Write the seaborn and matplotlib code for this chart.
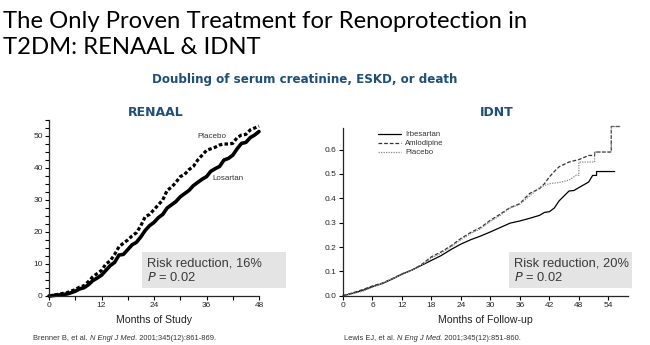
import matplotlib
matplotlib.use("Agg")
import matplotlib.pyplot as plt
import seaborn as sns
import pandas as pd
from matplotlib.patches import Rectangle

# ---------------- data ----------------
renaal_months = [0, 2, 4, 5, 6, 7, 8, 9, 10, 11, 12, 13, 14, 15, 16, 17, 18, 19, 20, 21, 22, 23, 24,
                 25, 26, 27, 28, 29, 30, 31, 32, 33, 34, 35, 36, 37, 38, 39, 40, 41, 42, 43, 44, 45,
                 46, 47, 48]
renaal_losartan = [0, 0.3, 0.6, 1, 1.5, 2.2, 2.6, 3.5, 4.8, 5.6, 6.5, 8, 9.5, 10.5, 12.8, 13, 14.5,
                   16, 16.8, 18.5, 20.5, 22, 23, 24.5, 25.5, 27.5, 28.5, 29.5, 31, 32, 33, 34.5, 35.5,
                   36.5, 37.3, 39, 39.8, 40.5, 42.5, 43, 44, 46, 47.7, 48, 49.5, 50.3, 51.4]
renaal_placebo = [0, 0.5, 1, 1.5, 2, 2.8, 3.2, 4.5, 6, 7, 8, 10, 11, 13, 15.4, 16.5, 17.5, 18.8,
                  19.8, 22, 24.8, 25.5, 27, 28.5, 30, 33, 34, 35.5, 37.3, 38, 39.5, 40.5, 42.5, 44,
                  45.5, 46, 46.5, 47.2, 47.5, 47.5, 47.7, 49.5, 50.3, 50.5, 51.9, 52.5, 53.1]

idnt_irb_months = [0, 2, 4, 6, 8, 10, 12, 14, 16, 18, 20, 22, 24, 26, 28, 30, 32, 34, 36, 38, 40,
                   41, 42, 43, 44, 45, 46, 47, 48, 50, 50.8, 51.6, 51.6, 55.3]
idnt_irbesartan = [0, 0.01, 0.022, 0.037, 0.05, 0.068, 0.088, 0.105, 0.125, 0.145, 0.165, 0.19,
                   0.212, 0.23, 0.245, 0.262, 0.28, 0.298, 0.307, 0.318, 0.33, 0.342, 0.345, 0.36,
                   0.39, 0.41, 0.43, 0.432, 0.444, 0.467, 0.494, 0.494, 0.51, 0.51]
idnt_aml_months = [0, 2, 4, 6, 8, 10, 12, 14, 16, 18, 20, 22, 24, 26, 28, 30, 32, 34, 36, 37, 38,
                   40, 41, 42, 43, 44, 46, 48, 50, 51.2, 51.2, 54.6, 54.6, 56.6]
idnt_amlodipine = [0, 0.012, 0.025, 0.04, 0.052, 0.07, 0.09, 0.105, 0.128, 0.16, 0.18, 0.205,
                   0.235, 0.26, 0.28, 0.31, 0.335, 0.362, 0.378, 0.4, 0.42, 0.44, 0.46, 0.488, 0.51,
                   0.53, 0.549, 0.559, 0.576, 0.576, 0.59, 0.59, 0.695, 0.695]
idnt_pla_months = [0, 2, 4, 6, 8, 10, 12, 14, 16, 18, 20, 22, 24, 26, 28, 30, 32, 34, 36, 38, 40,
                   42, 44, 46, 47.5, 48, 48, 51.2, 51.2, 54.6, 54.6, 56.6]
idnt_placebo = [0, 0.008, 0.018, 0.035, 0.05, 0.068, 0.09, 0.105, 0.125, 0.155, 0.175, 0.2, 0.23,
                0.255, 0.275, 0.305, 0.33, 0.36, 0.375, 0.41, 0.445, 0.46, 0.465, 0.475, 0.495,
                0.495, 0.549, 0.549, 0.59, 0.59, 0.695, 0.695]

renaal_xticks = [0, 12, 24, 36, 48]
renaal_yticks = [0, 10, 20, 30, 40, 50]
idnt_xticks = [0, 6, 12, 18, 24, 30, 36, 42, 48, 54]
idnt_yticks = [0.0, 0.1, 0.2, 0.3, 0.4, 0.5, 0.6]

# ---------------- style ----------------
sns.set_style("ticks")
plt.rcParams["font.family"] = ["Liberation Sans", "DejaVu Sans"]
plt.rcParams["axes.linewidth"] = 0.9
for k in ["xtick.major.width", "ytick.major.width", "xtick.minor.width", "ytick.minor.width"]:
    plt.rcParams[k] = 0.8

W, H = 650, 345
fig = plt.figure(figsize=(6.5, 3.45), dpi=100)

def fx(px):
    return px / W

def fy(py):
    return 1 - py / H

BLUE = "#1f4e79"

# titles
fig.text(fx(3), fy(21), "The Only Proven Treatment for Renoprotection in", fontsize=17.2,
         family="Lato", va="center", ha="left", color="black")
fig.text(fx(3), fy(48), "T2DM: RENAAL & IDNT", fontsize=17.2, family="Lato",
         va="center", ha="left", color="black")
fig.text(fx(305), fy(80), "Doubling of serum creatinine, ESKD, or death", fontsize=8.6,
         family="DejaVu Sans", weight="bold", color=BLUE, ha="center", va="center")
fig.text(fx(156), fy(112), "RENAAL", fontsize=9, family="DejaVu Sans", weight="bold",
         color=BLUE, ha="center", va="center")
fig.text(fx(497), fy(112), "IDNT", fontsize=9, family="DejaVu Sans", weight="bold",
         color=BLUE, ha="center", va="center")

# ---------------- RENAAL ----------------
ax1 = fig.add_axes([fx(49), fy(296), fx(259) - fx(49), fy(120) - fy(296)])
df1 = pd.DataFrame({"month": renaal_months, "Losartan": renaal_losartan, "Placebo": renaal_placebo})
sns.lineplot(data=df1, x="month", y="Losartan", ax=ax1, color="black", linewidth=2.6,
             estimator=None, sort=False, clip_on=False)
sns.lineplot(data=df1, x="month", y="Placebo", ax=ax1, color="black", linewidth=2.3,
             estimator=None, sort=False, dashes=(1.1, 0.7), clip_on=False)
ax1.set_xlim(0, 48)
ax1.set_ylim(0, 55)
ax1.set_xticks(renaal_xticks)
ax1.set_xticks([6, 18, 30, 42], minor=True)
ax1.set_yticks(renaal_yticks)
ax1.set_yticks([2.5, 5, 7.5, 12.5, 15, 17.5, 22.5, 25, 27.5, 32.5, 35, 37.5, 42.5, 45, 47.5,
                52.5, 55], minor=True)
ax1.tick_params(axis="both", which="major", length=3, labelsize=6, pad=1.5, color="black")
ax1.tick_params(axis="both", which="minor", length=3, color="black")
ax1.set_xlabel("Months of Study", fontsize=7.6, labelpad=4, color="#222222")
ax1.set_ylabel("")
ax1.spines[["top", "right"]].set_visible(False)
ax1.set_facecolor("none")
ax1.text(40.5, 49.8, "Placebo", fontsize=5.8, ha="right", va="center", color="#333333")
ax1.text(37.3, 36.6, "Losartan", fontsize=5.8, ha="left", va="center", color="#333333")

# ---------------- IDNT ----------------
ax2 = fig.add_axes([fx(343), fy(295.7), fx(628) - fx(343), fy(127.7) - fy(295.7)])
d_irb = pd.DataFrame({"month": idnt_irb_months, "value": idnt_irbesartan})
d_aml = pd.DataFrame({"month": idnt_aml_months, "value": idnt_amlodipine})
d_pla = pd.DataFrame({"month": idnt_pla_months, "value": idnt_placebo})
sns.lineplot(data=d_irb, x="month", y="value", ax=ax2, color="black", linewidth=0.9,
             estimator=None, sort=False, label="Irbesartan", clip_on=False)
sns.lineplot(data=d_aml, x="month", y="value", ax=ax2, color="#333333", linewidth=0.9,
             estimator=None, sort=False, dashes=(3, 1.5), label="Amlodipine", clip_on=False)
sns.lineplot(data=d_pla, x="month", y="value", ax=ax2, color="#888888", linewidth=0.9,
             estimator=None, sort=False, dashes=(1, 1), label="Placebo", clip_on=False)
ax2.set_xlim(0, 58)
ax2.set_ylim(0, 0.69)
ax2.set_xticks(idnt_xticks)
ax2.set_yticks(idnt_yticks)
ax2.set_yticklabels([f"{v:.1f}" for v in idnt_yticks])
ax2.tick_params(axis="both", which="major", length=3, labelsize=6, pad=1.5, color="black")
ax2.set_xlabel("Months of Follow-up", fontsize=7.6, labelpad=4, color="#222222")
ax2.set_ylabel("")
ax2.spines[["top", "right"]].set_visible(False)
ax2.set_facecolor("none")
leg = ax2.legend(loc="upper left", bbox_to_anchor=(fx(378), fy(131)), bbox_transform=fig.transFigure,
                 frameon=False, fontsize=5.6, handlelength=3.0, handletextpad=0.5,
                 labelspacing=0.2, borderpad=0, borderaxespad=0)
for t in leg.get_texts():
    t.set_color("#333333")

# ---------------- risk boxes ----------------
for (x0, x1), rr in [((142, 286), "16%"), ((509, 632), "20%")]:
    fig.patches.append(Rectangle((fx(x0), fy(288)), fx(x1) - fx(x0), fy(252) - fy(288),
                                 transform=fig.transFigure, facecolor="#e4e4e4",
                                 edgecolor="none", zorder=0))
    fig.text(fx(x0 + 5), fy(263), f"Risk reduction, {rr}", fontsize=9.3, color="#3a3a3a",
             ha="left", va="center")
    fig.text(fx(x0 + 5), fy(277.5), r"$\it{P}$ = 0.02", fontsize=9.3, color="#3a3a3a",
             ha="left", va="center")

# ---------------- citations ----------------
renderer = fig.canvas.get_renderer()

def rich(x, y, parts):
    for s, st in parts:
        t = fig.text(x, y, s, fontsize=5.4, style=st, color="#333333", ha="left", va="center")
        bb = t.get_window_extent(renderer)
        x += bb.width / fig.bbox.width

rich(fx(33), fy(338), [("Brenner B, et al. ", "normal"), ("N Engl J Med", "italic"),
                       (". 2001;345(12):861-869.", "normal")])
rich(fx(344), fy(338), [("Lewis EJ, et al. ", "normal"), ("N Eng J Med", "italic"),
                        (". 2001;345(12):851-860.", "normal")])

fig.savefig("out.png", dpi=100)
